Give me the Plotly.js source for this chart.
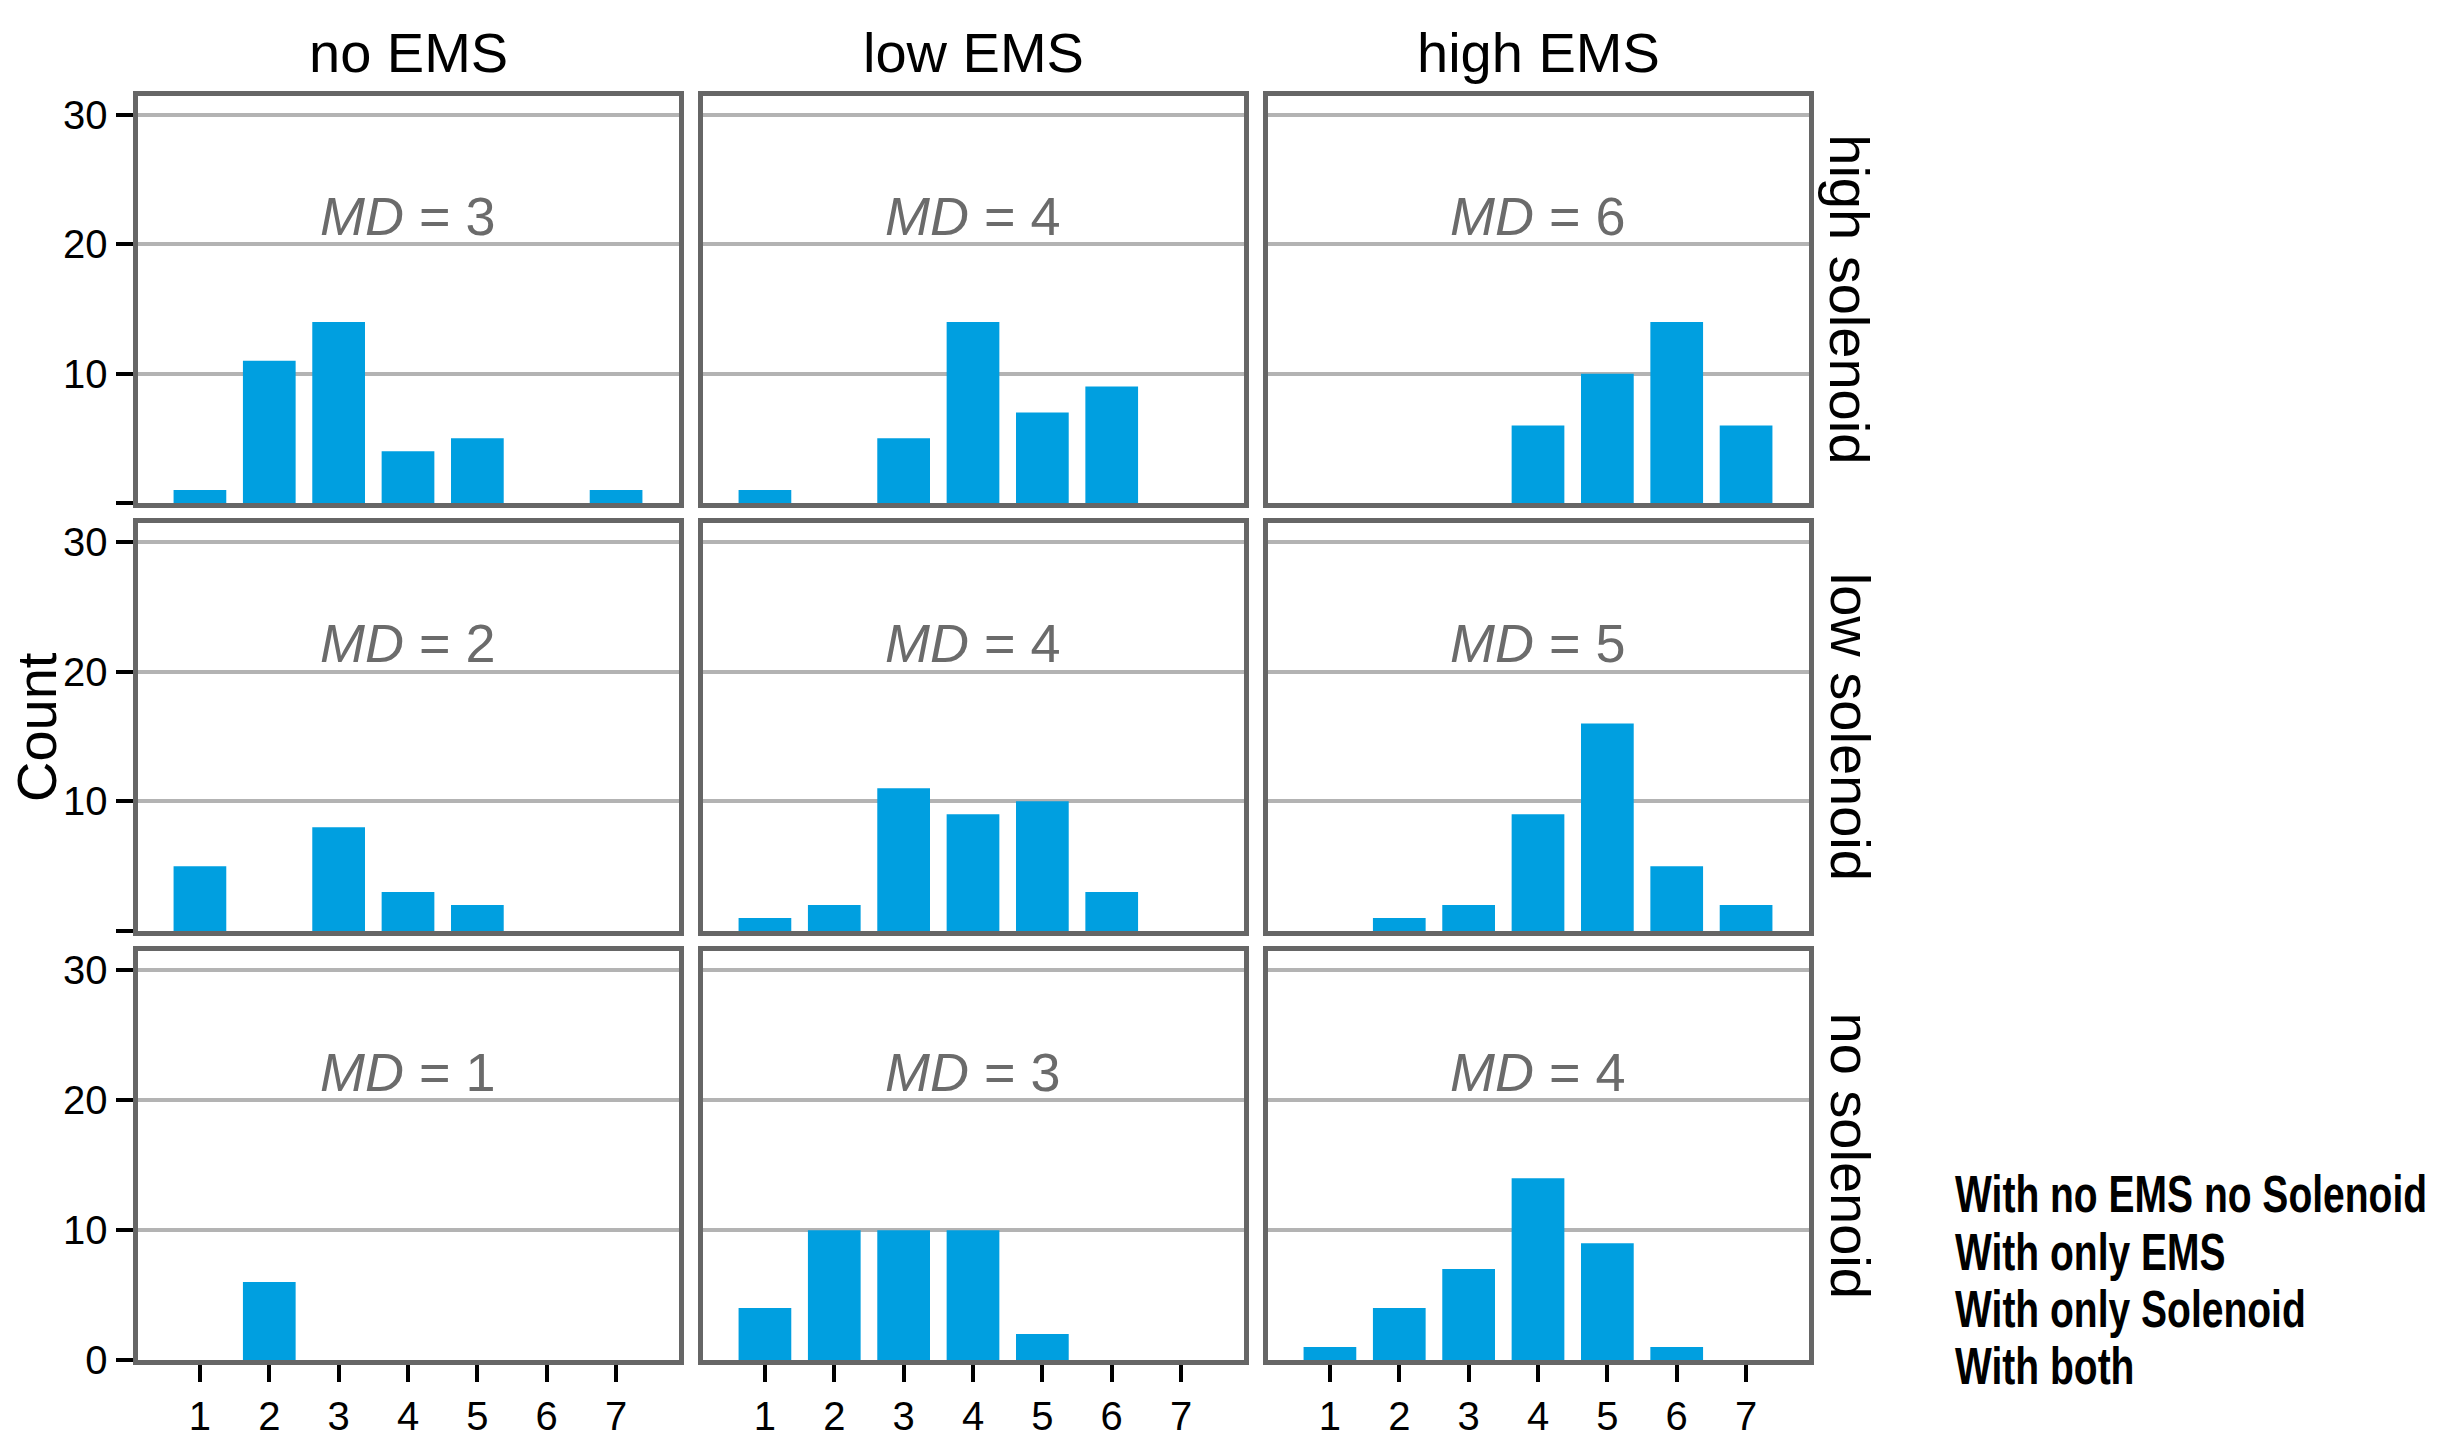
<!DOCTYPE html>
<html>
<head>
<meta charset="utf-8">
<script src="https://cdn.plot.ly/plotly-3.0.1.min.js"></script>
<style>html,body{margin:0;padding:0;background:#fff;}#chart{width:2437px;height:1440px;}</style>
</head>
<body>
<div id="chart"></div>
<script>
// ---- data ----
const scoreCategories = [1, 2, 3, 4, 5, 6, 7];
const emsLevels = ['no EMS', 'low EMS', 'high EMS'];
const solenoidLevels = ['high solenoid', 'low solenoid', 'no solenoid'];

const highSolenoid_noEMS   = [1, 11, 14, 4, 5, 0, 1];
const highSolenoid_lowEMS  = [1, 0, 5, 14, 7, 9, 0];
const highSolenoid_highEMS = [0, 0, 0, 6, 10, 14, 6];
const lowSolenoid_noEMS    = [5, 0, 8, 3, 2, 0, 0];
const lowSolenoid_lowEMS   = [1, 2, 11, 9, 10, 3, 0];
const lowSolenoid_highEMS  = [0, 1, 2, 9, 16, 5, 2];
const noSolenoid_noEMS     = [0, 6, 0, 0, 0, 0, 0];
const noSolenoid_lowEMS    = [4, 10, 10, 10, 2, 0, 0];
const noSolenoid_highEMS   = [1, 4, 7, 14, 9, 1, 0];

const mdHighSolenoid = [3, 4, 6];
const mdLowSolenoid  = [2, 4, 5];
const mdNoSolenoid   = [1, 3, 4];

const yTickValues = [0, 10, 20, 30];
const yTickLabelsBottom = ['0', '10', '20', '30'];
const yTickLabelsOther  = ['', '10', '20', '30'];
const xTickLabels = ['1', '2', '3', '4', '5', '6', '7'];

const legendLabels = ['With no EMS no Solenoid', 'With only EMS', 'With only Solenoid', 'With both'];

// ---- layout geometry (pixels) ----
const W = 2437, H = 1440;
const colX = [[137.5, 678.5], [702.5, 1243.5], [1267.5, 1808.5]];
const rowY = [[95.5, 503], [522.5, 931], [951, 1360]];
const countsGrid = [
  [highSolenoid_noEMS, highSolenoid_lowEMS, highSolenoid_highEMS],
  [lowSolenoid_noEMS, lowSolenoid_lowEMS, lowSolenoid_highEMS],
  [noSolenoid_noEMS, noSolenoid_lowEMS, noSolenoid_highEMS]
];
const mdGrid = [mdHighSolenoid, mdLowSolenoid, mdNoSolenoid];

const FONT = 'Liberation Sans, Arial, Helvetica, sans-serif';
const BAR = '#009FE0';

const traces = [];
const layout = {
  width: W, height: H,
  margin: {l: 0, r: 0, t: 0, b: 0, pad: 0},
  paper_bgcolor: '#ffffff', plot_bgcolor: '#ffffff',
  showlegend: false,
  bargap: 0.24,
  font: {family: FONT, color: '#000000'},
  annotations: []
};

let n = 0;
for (let r = 0; r < 3; r++) {
  for (let c = 0; c < 3; c++) {
    n++;
    const xs = n === 1 ? '' : String(n);
    traces.push({
      type: 'bar', x: scoreCategories, y: countsGrid[r][c],
      xaxis: 'x' + xs, yaxis: 'y' + xs,
      marker: {color: BAR, line: {width: 0}},
      hoverinfo: 'x+y'
    });
    layout['xaxis' + xs] = {
      domain: [colX[c][0] / W, colX[c][1] / W],
      range: [0.1, 7.9],
      anchor: 'y' + xs,
      showline: true, mirror: true, linecolor: '#666666', linewidth: 5,
      showgrid: false, zeroline: false,
      tickmode: 'array', tickvals: scoreCategories, ticktext: xTickLabels,
      ticks: r === 2 ? 'outside' : '', ticklen: 17, tickwidth: 4, tickcolor: '#000000',
      showticklabels: r === 2,
      tickfont: {family: FONT, size: 40, color: '#000000'},
      fixedrange: true
    };
    layout['yaxis' + xs] = {
      domain: [1 - rowY[r][1] / H, 1 - rowY[r][0] / H],
      range: [0, 31.5],
      anchor: 'x' + xs,
      showline: true, mirror: true, linecolor: '#666666', linewidth: 5,
      showgrid: true, gridcolor: '#b3b3b3', gridwidth: 4, zeroline: false,
      tickmode: 'array', tickvals: yTickValues,
      ticktext: r === 2 ? yTickLabelsBottom : yTickLabelsOther,
      ticks: c === 0 ? 'outside' : '', ticklen: 17, tickwidth: 4, tickcolor: '#000000',
      showticklabels: c === 0,
      tickfont: {family: FONT, size: 40, color: '#000000'},
      fixedrange: true
    };
    layout.annotations.push({
      xref: 'x' + xs, yref: 'y' + xs, x: 4, y: 22.2,
      text: '<i>MD</i> = ' + mdGrid[r][c],
      showarrow: false, xanchor: 'center', yanchor: 'middle',
      font: {family: FONT, size: 54, color: '#6b6b6b'}
    });
  }
}

// column strip titles
for (let c = 0; c < 3; c++) {
  layout.annotations.push({
    xref: 'paper', yref: 'paper',
    x: (colX[c][0] + colX[c][1]) / 2 / W, y: 1 - 53 / H,
    text: emsLevels[c], showarrow: false, xanchor: 'center', yanchor: 'middle',
    font: {family: FONT, size: 56, color: '#000000'}
  });
}
// row strip titles
for (let r = 0; r < 3; r++) {
  layout.annotations.push({
    xref: 'paper', yref: 'paper',
    x: 1850 / W, y: 1 - (rowY[r][0] + rowY[r][1]) / 2 / H,
    text: solenoidLevels[r], textangle: 90, showarrow: false,
    xanchor: 'center', yanchor: 'middle',
    font: {family: FONT, size: 56, color: '#000000'}
  });
}
// y axis title
layout.annotations.push({
  xref: 'paper', yref: 'paper', x: 36 / W, y: 1 - 727 / H,
  text: 'Count', textangle: -90, showarrow: false,
  xanchor: 'center', yanchor: 'middle',
  font: {family: FONT, size: 56, color: '#000000'}
});
// legend text (bold, drawn narrow like a condensed face)
const legendStart = layout.annotations.length;
const legendY = [1194, 1252, 1309, 1366];
for (let i = 0; i < legendLabels.length; i++) {
  layout.annotations.push({
    xref: 'paper', yref: 'paper', x: 1953 / W, y: 1 - legendY[i] / H,
    text: legendLabels[i], showarrow: false, xanchor: 'left', yanchor: 'middle',
    font: {family: FONT, size: 51, color: '#000000', weight: 700}
  });
}
const st = document.createElement('style');
let css = '';
for (let i = 0; i < legendLabels.length; i++) {
  css += '.annotation[data-index="' + (legendStart + i) + '"] .annotation-text{transform-box:fill-box;transform-origin:0% 50%;transform:scaleX(0.765);}\n';
}
st.textContent = css;
document.head.appendChild(st);

Plotly.newPlot('chart', traces, layout, {displayModeBar: false, staticPlot: true});
</script>
</body>
</html>
